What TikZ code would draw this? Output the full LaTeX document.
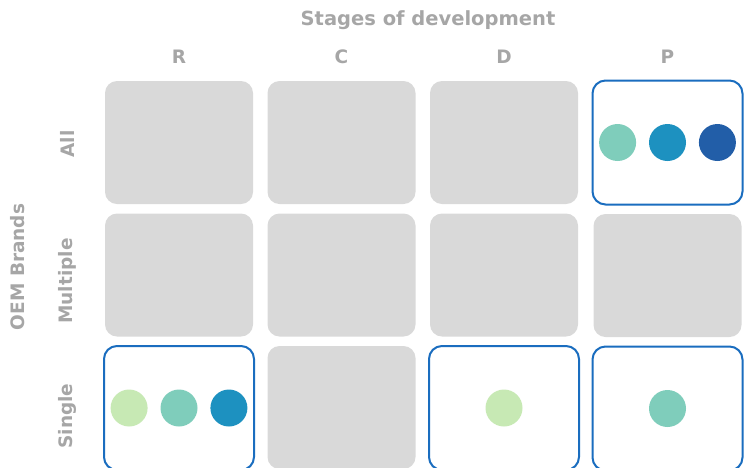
\documentclass[tikz,border=0pt]{standalone}
\usepackage{fontspec}
\setmainfont{DejaVu Sans}
\usetikzlibrary{positioning}
\definecolor{cellgray}{HTML}{D9D9D9}
\definecolor{labgray}{HTML}{A6A6A6}
\definecolor{hitblue}{HTML}{1A6DBF}
\definecolor{dotA}{HTML}{C7E9B4}
\definecolor{dotB}{HTML}{7FCDBB}
\definecolor{dotC}{HTML}{1D91C0}
\definecolor{dotD}{HTML}{225EA8}

\begin{document}
\begin{tikzpicture}[x=1pt,y=-1pt,node distance=9.5pt and 14.5pt,
  font=\fontsize{18.5}{22}\selectfont\bfseries,
  cell/.style={fill=cellgray,rounded corners=12pt,minimum width=148pt,minimum height=123pt,inner sep=0pt,outer sep=0pt},
  hit/.style={cell,fill=white,draw=hitblue,line width=2pt,rounded corners=13pt,minimum width=150pt,minimum height=124pt},
  lab/.style={text=labgray,inner sep=0pt},
  dot/.style={circle,minimum size=37pt,inner sep=0pt}]
  \useasboundingbox (0,0) rectangle (746,467);
  \clip (0,0) rectangle (746,467);
  % top row, then each column downwards
  \node[cell] (rA) at (179,142.5) {};
  \node[cell,right=of rA] (cA) {};
  \node[cell,right=of cA] (dA) {};
  \node[hit,right=of dA] (pA) {};
  \node[cell,below=of rA] (rM) {};
  \node[cell,below=of cA] (cM) {};
  \node[cell,below=of dA] (dM) {};
  \node[cell,below=of pA] (pM) {};
  \node[hit,below=of rM] (rS) {};
  \node[cell,below=of cM] (cS) {};
  \node[hit,below=of dM] (dS) {};
  \node[hit,below=of pM] (pS) {};
  % dots
  \node[dot,fill=dotC] (pA2) at (pA) {};
  \node[dot,fill=dotB,left=12.5pt of pA2] (pA1) {};
  \node[dot,fill=dotD,right=12.5pt of pA2] (pA3) {};
  \node[dot,fill=dotB] (rS2) at (rS) {};
  \node[dot,fill=dotA,left=12.5pt of rS2] (rS1) {};
  \node[dot,fill=dotC,right=12.5pt of rS2] (rS3) {};
  \node[dot,fill=dotA] (dS1) at (dS) {};
  \node[dot,fill=dotB] (pS1) at (pS) {};
  % labels
  \node[lab,font=\fontsize{19.5}{23}\selectfont\bfseries] (title) at (428,20) {Stages of development};
  \node[lab] (colR) at (rA |- 0,57) {R};
  \node[lab] (colC) at (cA |- 0,57) {C};
  \node[lab] (colD) at (dA |- 0,57) {D};
  \node[lab] (colP) at (pA |- 0,57) {P};
  \node[lab,rotate=90] (rowA) at (67,144) {All};
  \node[lab,rotate=90] (rowM) at (67,281) {Multiple};
  \node[lab,rotate=90] (rowS) at (67,416) {Single};
  \node[lab,rotate=90] (axis) at (18,267) {OEM Brands};
\end{tikzpicture}
\end{document}
